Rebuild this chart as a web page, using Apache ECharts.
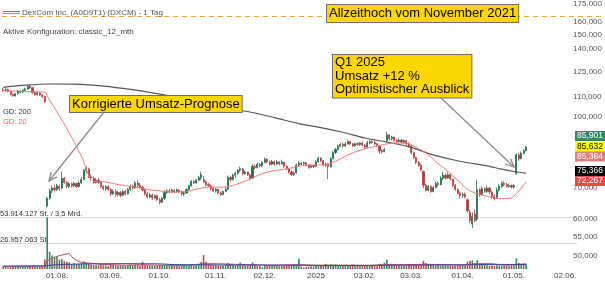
<!DOCTYPE html>
<html><head><meta charset="utf-8">
<script src="https://cdn.jsdelivr.net/npm/echarts@6/dist/echarts.min.js"></script>
<style>html,body{margin:0;padding:0;background:#fff;}#c{width:605px;height:283px;}</style>
</head><body><div id="c"></div>
<script>
// ---------- calendar (NYSE trading days) ----------
const firstDay = '2024-07-01';
const lastDay = '2025-06-24';
const holidays = ['2024-07-04','2024-09-02','2024-11-28','2024-12-25','2025-01-01','2025-01-09','2025-01-20','2025-02-17','2025-04-18','2025-05-26','2025-06-19'];

// ---------- candles [open, close, low, high] ----------
const ohlcJul = [[114.2,113.6,113,115.2],[113.6,114.4,113.1,115],[114.4,113.2,112.6,114.8],[113.2,111.6,111,113.5],[111.6,110.8,110.3,112],[110.8,111.9,110.4,112.4],[111.9,113.4,111.5,113.9],[113.4,112.8,112.2,114],[112.8,113.9,112.4,114.5],[113.9,114.6,113.3,115.4],[114.6,116.2,114.2,116.9],[116.2,115.4,114.6,117.3],[115.4,112.6,112,115.8],[112.6,111.4,110.8,113],[111.4,112.3,110.9,112.9],[112.3,111.2,110.6,112.8],[111.2,110.4,109.6,111.7],[110.4,107.6,107,110.8],[64,66.5,63.5,67],[66.5,69,66,69.8],[69,70,68.2,70.8],[70,69.5,68.8,71]];
const ohlcAug = [[69.5,71,69,71.5],[70.5,69.8,69,71.2],[70,73.5,69.5,76],[73.5,72,71.5,74],[72,70.5,70,72.5],[70.5,71.5,70,72],[71.5,70.8,70.2,72],[70.8,71.6,70.3,72.2],[71.6,70.5,70,72],[70.5,71.8,70.2,72.4],[71.8,73,71.5,74],[73,76.5,72.8,77],[76.5,77.2,75.5,78],[77,74,73.5,77.5],[74,73.5,72.8,75],[73.5,72,71.5,74.2],[72,72.8,71.6,73.5],[72.8,72,71.5,73.6],[72,70.5,70,72.4],[70.5,69.8,69.2,71],[69.8,70.5,69,71],[70.5,69.5,69,71]];
const ohlcSep = [[69.5,68,67.3,70],[68,68.8,67.6,69.5],[68.8,67.8,67.2,69.6],[67.8,68.5,67.2,69],[68.5,67.5,66.8,69],[67.5,68.8,67.2,69.3],[68.8,68,67.4,69.5],[68,69.5,67.8,70],[69.5,70.5,69,71.2],[70.5,70,69.5,71.3],[70,71.8,69.8,72.5],[71.8,71,70.3,72.8],[71,70.3,69.8,71.8],[70.3,69.3,68.8,70.8],[69.3,68,67.5,69.8],[68,67,66.5,68.6],[67,67.6,66.6,68.3],[67.6,66.6,66,68],[66.6,67.4,66.2,67.8],[67.4,66,65.6,67.7]];
const ohlcOct = [[66,65.2,64.6,66.6],[65.2,66.5,65,67],[66.5,68.5,66,69.2],[68.5,69,68,69.6],[69,68.6,68.2,69.6],[68.6,69.2,68.3,69.7],[69.2,68.8,68.2,69.6],[68.8,69.3,68.4,69.8],[69.3,68.7,68.3,69.6],[68.7,68,67.4,69.2],[68,68.3,67.3,68.9],[68.3,69.5,68,69.9],[69.5,70.8,69.2,71.2],[70.8,72.3,70.5,72.8],[72.3,71.8,71.3,72.8],[71.8,72.8,71.5,73.3],[72.8,73.8,72.4,74.3],[73.8,74.8,72.8,75.9],[73,72.2,71.8,74.3],[72.2,71.2,70.8,72.7],[71.2,70.8,70.3,71.8],[70.8,69.8,69.3,71.3],[69.8,69,68.6,70.3]];
const ohlcNov = [[69,69.6,68.4,70],[69.6,68.3,67.8,69.8],[68.3,67.8,67.3,68.8],[67.8,68.8,67.5,69.2],[68.8,69.5,68.5,70.5],[69.5,73.8,69.3,74.5],[73.8,73,72.4,74.5],[73,74.6,72.7,75.2],[74.6,75.3,73.6,76],[75.3,76.5,74.8,77],[76.5,77,75.8,77.8],[77,75.2,74.5,77.2],[75.2,75.8,74.8,76.3],[75.8,74.8,74.3,76],[74.8,73.3,72.8,75],[73.5,78,73.3,78.8],[78,77.5,76.8,78.8],[77.5,78.8,77.2,79.5],[78.8,78.3,77.6,79.3],[78.3,79.5,77.8,80]];
const ohlcDec = [[79.5,80.8,79.3,81.5],[80.8,79.8,79.2,81.2],[79.8,78.8,78.3,80.2],[78.8,79.8,78.4,80.5],[79.8,78.9,78.2,80.2],[78.9,79.7,78.6,80.5],[79.7,79,78.4,80],[79,79.6,78.5,80.6],[79.6,78,77.4,79.8],[78,77,76.5,78.4],[77,75.8,75.2,77.3],[75.8,74.8,74.4,76.5],[74.8,75.3,74.4,76],[75.5,78.5,75.2,79],[78.5,79.3,78,80],[79.3,79,78.4,79.8],[79,79.4,78.6,79.9],[79.4,78.6,78.1,79.6],[78.6,77.6,77.1,78.8],[77.6,78.3,77.2,78.7],[78.3,77.8,77.3,78.6]];
const ohlcJan = [[78,79.8,77.8,80.4],[79.8,81.2,79.4,81.8],[81.2,80.2,79.6,81.6],[80.2,78.6,78.1,80.5],[78.6,78.8,77.7,79.5],[78.8,77.8,73.2,79.3],[77.8,81,77.5,81.5],[81,83.5,80.8,84.1],[83.5,84.8,83,85.4],[84.8,86.2,84.4,86.8],[86.2,87,85.8,87.6],[87,86.3,85.7,87.6],[86.3,87.2,86,88],[87.2,88.2,86.9,88.9],[88.2,87.2,86.6,88.4],[87.2,86.4,85.8,87.6],[86.4,87.3,86,87.8],[87.3,86.9,86.5,87.9],[86.9,87.6,86.3,88],[87.6,86.8,86.3,88.2]];
const ohlcFeb = [[86.5,85.8,85,87.2],[85.8,87.6,85.5,88.6],[87.6,88.2,87,88.9],[88.2,87.8,87.3,88.7],[87.8,87.2,86.8,88.4],[87.2,86.6,86,87.6],[86.2,84.2,83,86.5],[84.2,83.8,83.1,85],[84,84.8,83.6,85.5],[88.5,91.2,87.6,92.6],[91.2,89.5,88.8,91.5],[89.5,90.2,88.8,90.8],[90.2,88.8,88.2,90.4],[88.8,88.3,87.5,89.4],[88.3,88.9,87.8,89.6],[88.9,88,87.4,89.3],[88,88.6,87.3,89.1],[88.6,87.2,86.5,89],[87.2,86.3,85.6,87.9]];
const ohlcMar = [[86.3,83.5,82.8,86.6],[83.5,81.5,80.8,84],[81.5,79.5,78.9,81.8],[79.5,78.4,77.8,80.1],[78.4,76.6,76.2,79],[76,71,70,76.4],[71,69.2,68.8,71.4],[69.2,70.5,68.8,71],[70.5,68.8,68.3,70.9],[68.8,70.2,68.5,70.7],[70.2,71.6,69.9,72.2],[71.6,71.2,70.5,72.4],[71.2,73.5,71,74.2],[73.5,74.6,72.8,75.9],[74.6,73.6,73,75.2],[73.6,74.8,73.2,75.6],[74.8,73.2,72.7,75.2],[73.2,71,70.4,73.4],[71,69.5,69,71.4],[69.5,68.2,67.8,69.9],[68.2,67.5,66.4,68.8]];
const ohlcApr = [[67.5,67.8,66.6,68.5],[67.8,67,66.5,68.4],[66,62.5,62,66.4],[62,59.5,58.8,62.8],[58.5,60.8,57.4,62],[61.5,59.5,59,63],[60,69.5,59.5,73],[69.5,67.8,67,70],[67.8,69.8,67.5,70.6],[69.8,68.8,68.3,70.2],[68.8,70,68.4,70.8],[70,68.6,67.9,70.3],[68.6,67.2,66.3,68.9],[67.2,66.4,65.8,67.8],[66.8,69.3,66.5,70.2],[69.3,70.6,68.8,71.4],[70.6,71.6,70,72.4],[71.6,71.2,70.6,72.5],[71.2,70.6,70.1,71.8],[70.6,70.9,70,71.4],[70.9,70.4,69.9,71.3]];
const ohlcMay = [[70.4,70.8,69.8,71.3],[75.2,82.6,74.8,83.2],[82.6,81,80.2,83.4],[81,83.2,80.8,84],[83.2,84.3,82.9,85],[84.3,85.901,84,86.3]];

// ---------- volume (millions of shares) ----------
const volJul = [2.8,2.2,1.6,2.4,2.6,2.9,3.1,2.7,2.5,3.0,3.4,3.2,3.5,3.0,2.6,2.8,3.1,10.0,53.914127,18.0,14.2,11.5];
const volAug = [12.8,9.6,10.5,8.2,7.5,6.8,5.2,6.0,5.1,5.6,6.3,7.8,6.5,5.5,4.6,4.2,4.0,3.8,4.5,3.9,3.6,3.2];
const volSep = [4.8,4.1,3.7,3.4,4.0,3.6,3.3,3.8,4.4,3.9,4.2,4.6,3.5,7.6,3.8,4.1,3.6,3.3,3.0,3.7];
const volOct = [4.3,3.9,4.5,3.6,3.4,3.8,3.2,3.5,3.0,3.3,3.1,3.6,4.2,4.8,3.7,3.9,5.0,7.2,14.5,7.5,5.2,4.6,4.4];
const volNov = [4.1,3.8,3.5,3.9,4.6,6.2,5.0,4.3,3.9,4.4,6.6,4.8,3.7,3.5,4.0,6.8,4.2,3.6,3.1,1.9];
const volDec = [4.0,3.7,3.4,3.2,3.6,3.3,3.0,3.5,3.1,3.4,3.8,3.6,4.7,3.9,10.8,2.6,1.4,2.2,2.4,2.9,2.7];
const volJan = [3.6,3.2,3.9,3.4,5.4,4.2,4.8,4.5,4.6,4.1,3.8,3.9,3.5,3.7,3.4,4.6,3.8,3.2,3.6,3.5];
const volFeb = [3.7,4.0,3.4,3.2,3.1,3.0,5.4,4.8,6.5,9.6,5.2,4.4,3.8,3.6,3.9,3.5,3.3,3.8,4.2];
const volMar = [4.1,4.5,4.9,4.6,4.3,8.4,6.2,5.0,4.4,4.1,3.7,4.2,3.6,3.9,4.6,3.8,3.5,3.3,3.6,4.0,4.3];
const volApr = [4.2,3.8,7.8,8.6,8.9,6.4,9.2,5.3,4.6,4.2,3.9,3.6,3.8,3.4,3.9,3.7,3.5,3.6,3.9,3.4,4.1];
const volMay = [5.2,11.0,6.3,4.8,4.2,4.6];

// ---------- moving averages ----------
const gd200 = [['2024-07-01',115.6],['2024-07-15',116.8],['2024-07-29',117.5],['2024-08-12',117.4],['2024-08-26',116.6],['2024-09-10',115.0],['2024-09-25',112.7],['2024-10-09',110.2],['2024-10-23',107.3],['2024-11-06',104.7],['2024-11-21',102.2],['2024-12-06',99.4],['2024-12-20',96.5],['2025-01-06',94.6],['2025-01-21',92.4],['2025-02-03',89.8],['2025-02-18',87.8],['2025-02-28',86.0],['2025-03-13',82.9],['2025-03-26',80.6],['2025-04-02',79.6],['2025-04-15',78.2],['2025-04-24',76.9],['2025-05-01',76.0],['2025-05-08',75.366]];
const gd20 = [['2024-07-01',113.8],['2024-07-15',113.2],['2024-07-25',112.8],['2024-07-26',110.6],['2024-08-01',102.3],['2024-08-08',92.2],['2024-08-15',82.0],['2024-08-22',72.3],['2024-08-27',72.3],['2024-09-04',71.6],['2024-09-11',70.8],['2024-09-18',70.2],['2024-09-25',69.4],['2024-10-02',68.9],['2024-10-09',68.6],['2024-10-16',68.8],['2024-10-23',69.8],['2024-10-30',70.4],['2024-11-06',70.3],['2024-11-13',71.2],['2024-11-20',72.8],['2024-11-27',74.8],['2024-12-05',76.2],['2024-12-13',77.0],['2024-12-23',78.2],['2025-01-02',78.5],['2025-01-08',78.6],['2025-01-15',80.0],['2025-01-22',82.0],['2025-01-27',83.4],['2025-01-31',84.8],['2025-02-05',85.6],['2025-02-11',86.5],['2025-02-14',87.2],['2025-02-21',87.6],['2025-02-27',87.5],['2025-03-04',86.2],['2025-03-10',84.0],['2025-03-13',81.8],['2025-03-17',79.8],['2025-03-21',76.8],['2025-03-26',74.3],['2025-03-31',72.0],['2025-04-03',69.5],['2025-04-09',68.0],['2025-04-15',67.2],['2025-04-23',66.4],['2025-04-29',66.5],['2025-05-01',67.2],['2025-05-05',69.0],['2025-05-07',71.0],['2025-05-08',72.267]];
const volAvgShort = [['2024-07-01',2.8],['2024-07-25',3.2],['2024-07-26',8.4],['2024-07-30',11.5],['2024-08-02',14.0],['2024-08-07',15.8],['2024-08-08',16.2],['2024-08-09',12.8],['2024-08-13',9.0],['2024-08-15',7.0],['2024-08-21',6.0],['2024-08-27',4.8],['2024-09-11',4.0],['2024-09-20',4.4],['2024-10-02',3.9],['2024-10-16',3.6],['2024-10-25',5.6],['2024-11-06',5.4],['2024-11-11',5.0],['2024-11-20',4.6],['2024-12-05',4.0],['2024-12-20',4.6],['2025-01-02',4.0],['2025-01-22',4.0],['2025-02-05',3.8],['2025-02-14',4.6],['2025-02-27',4.6],['2025-03-10',4.9],['2025-03-20',4.7],['2025-04-01',4.0],['2025-04-09',5.6],['2025-04-17',5.5],['2025-04-25',4.0],['2025-05-02',4.8],['2025-05-08',5.5]];
const volAvgLong = [['2024-07-01',3.0],['2024-07-26',3.2],['2024-07-29',4.0],['2024-08-06',4.8],['2024-08-20',5.4],['2024-09-11',5.6],['2024-10-01',5.4],['2024-10-09',4.6],['2024-11-06',4.2],['2024-12-05',4.1],['2025-01-06',3.7],['2025-02-05',3.8],['2025-03-06',4.1],['2025-04-03',4.5],['2025-04-17',4.8],['2025-05-08',4.7]];

// ---------- reference levels, axis ticks, tags ----------
const athPrice = 164.86;
const volRefLines = [53.914127, 26.957063];
const volRefTexts = ['53.914.127 St. / 3,5 Mrd.', '26.957.063 St.'];
const priceTicks = [50, 55, 60, 70, 100, 110, 125, 140, 150, 160, 175];
const tagValues = [85.901, 85.632, 85.364, 75.366, 72.267];

// ---------- build ----------
const FONT = '"Liberation Sans", Arial, sans-serif';
const cats = [];
(function () {
  const hol = new Set(holidays);
  let t = Date.parse(firstDay + 'T00:00:00Z');
  const end = Date.parse(lastDay + 'T00:00:00Z');
  while (t <= end) {
    const d = new Date(t);
    const wd = d.getUTCDay();
    const s = d.toISOString().slice(0, 10);
    if (wd !== 0 && wd !== 6 && !hol.has(s)) cats.push(s);
    t += 86400000;
  }
})();
const ohlc = [].concat(ohlcJul, ohlcAug, ohlcSep, ohlcOct, ohlcNov, ohlcDec, ohlcJan, ohlcFeb, ohlcMar, ohlcApr, ohlcMay);
const vol = [].concat(volJul, volAug, volSep, volOct, volNov, volDec, volJan, volFeb, volMar, volApr, volMay);

const UP = '#1d6e4b', DOWN = '#b8383c';
const VUP = '#2f8a5f', VDOWN = '#b54a4e';
const deFmt = v => v.toFixed(3).replace('.', ',');

const priceMin = 46.78, priceMax = 175.21;
const volMax = 277.3;

const chart = echarts.init(document.getElementById('c'));

function arrow(x1, y1, x2, y2) {
  const a = Math.atan2(y2 - y1, x2 - x1), L = 9, w = 0.42;
  return [
    { type: 'line', shape: { x1, y1, x2, y2 }, style: { stroke: '#8c8c8c', lineWidth: 1.3 }, z: 50 },
    { type: 'polyline', shape: { points: [[x2 - L * Math.cos(a - w), y2 - L * Math.sin(a - w)], [x2, y2], [x2 - L * Math.cos(a + w), y2 - L * Math.sin(a + w)]] }, style: { stroke: '#8c8c8c', lineWidth: 1.3, fill: null }, z: 50 }
  ];
}
function box(text, x, y, lh) {
  return { type: 'text', x, y, z: 60, style: { text, font: '13px ' + FONT, fill: '#000', backgroundColor: '#ffd700', borderColor: '#6e6e6e', borderWidth: 1, padding: [1, 2, 1, 2], lineHeight: lh } };
}
const tagStyles = [
  { bg: '#2e8a6c', fg: '#fff', y: 136 },
  { bg: '#ffff00', fg: '#000', y: 147 },
  { bg: '#de8080', fg: '#fff', y: 156.5 },
  { bg: '#000000', fg: '#fff', y: 171 },
  { bg: '#f04848', fg: '#fff', y: 181 }
];
const tags = tagValues.map((v, i) => ({
  type: 'text', x: 575, y: tagStyles[i].y, z: 70,
  style: { text: deFmt(v), font: '8.5px ' + FONT, fill: tagStyles[i].fg, backgroundColor: tagStyles[i].bg, padding: [1, 2, 0, 2], lineHeight: 9, verticalAlign: 'middle' }
}));

const baseGraphics = [
  { type: 'line', shape: { x1: 3, y1: 11.5, x2: 20, y2: 11.5 }, style: { stroke: '#2e9a6e', lineWidth: 1 }, z: 40 },
  { type: 'line', shape: { x1: 3, y1: 13.5, x2: 20, y2: 13.5 }, style: { stroke: '#6f9cc8', lineWidth: 1 }, z: 40 },
  { type: 'text', x: 22, y: 12.5, z: 40, style: { text: 'DexCom Inc. (A0D9T1) (DXCM) - 1 Tag', font: '8px ' + FONT, fill: '#555', verticalAlign: 'middle' } },
  { type: 'text', x: 3, y: 31.5, z: 40, style: { text: 'Aktive Konfiguration: classic_12_mth', font: '8px ' + FONT, fill: '#444', verticalAlign: 'middle' } },
  { type: 'text', x: 3, y: 112, z: 40, style: { text: 'GD: 200', font: '7.5px ' + FONT, fill: '#333', verticalAlign: 'middle' } },
  { type: 'text', x: 3, y: 121.5, z: 40, style: { text: 'GD: 20', font: '7.5px ' + FONT, fill: '#ef5a5a', verticalAlign: 'middle' } },
  ...arrow(104, 112, 49, 181),
  ...arrow(440, 97, 514, 167),
  box('Allzeithoch vom November 2021', 327, 5, 15),
  box('Korrigierte Umsatz-Prognose', 70, 96, 14),
  box('Q1 2025\nUmsatz +12 %\nOptimistischer Ausblick', 333, 55, 13.5),
  ...tags
];

chart.setOption({
  animation: false,
  backgroundColor: '#fff',
  grid: { left: 2, right: 0, top: 0, bottom: 14, containLabel: false },
  xAxis: {
    type: 'category', data: cats, boundaryGap: true,
    axisLine: { show: false }, axisTick: { show: false }, splitLine: { show: false },
    axisLabel: {
      fontSize: 8, fontFamily: FONT, color: '#444', margin: 3, hideOverlap: false,
      interval: (i, v) => i > 0 && cats[i].slice(5, 7) !== cats[i - 1].slice(5, 7),
      formatter: v => v.slice(5, 7) === '01' ? v.slice(0, 4) : v.slice(8, 10) + '.' + v.slice(5, 7) + '.'
    }
  },
  yAxis: [
    { type: 'log', logBase: 10, min: priceMin, max: priceMax, axisLabel: { show: false }, axisLine: { show: false }, axisTick: { show: false }, splitLine: { show: false } },
    { type: 'value', min: 0, max: volMax, show: false, splitLine: { show: false } },
    {
      type: 'value', position: 'right', min: Math.log10(priceMin), max: Math.log10(priceMax),
      axisLine: { show: false }, axisTick: { show: false }, splitLine: { show: false },
      axisLabel: { customValues: priceTicks.map(v => Math.log10(v)), formatter: v => deFmt(Math.pow(10, v)), fontSize: 8, fontFamily: FONT, color: '#555', margin: -30, align: 'left' }
    }
  ],
  series: [
    {
      type: 'bar', xAxisIndex: 0, yAxisIndex: 1, barWidth: 1.6, z: 1,
      data: vol.map((v, i) => ({ value: v, itemStyle: { color: ohlc[i][1] >= ohlc[i][0] ? VUP : VDOWN } }))
    },
    { type: 'line', yAxisIndex: 1, data: volAvgShort, showSymbol: false, lineStyle: { color: '#c0485a', width: 1 }, z: 2 },
    { type: 'line', yAxisIndex: 1, data: volAvgLong, showSymbol: false, lineStyle: { color: '#3a44a8', width: 1 }, z: 2 },
    {
      type: 'candlestick', yAxisIndex: 0, data: ohlc, barWidth: 1.6, z: 3,
      itemStyle: { color: UP, color0: DOWN, borderColor: UP, borderColor0: DOWN, borderWidth: 0.8 },
      markLine: {
        silent: true, symbol: 'none', label: { show: false },
        lineStyle: { color: '#f5a623', type: [5, 4], width: 1.2 },
        data: [{ yAxis: athPrice }]
      }
    },
    { type: 'line', yAxisIndex: 0, data: gd200, showSymbol: false, smooth: 0.3, lineStyle: { color: '#555', width: 1.2 }, z: 4 },
    { type: 'line', yAxisIndex: 0, data: gd20, showSymbol: false, smooth: 0.3, lineStyle: { color: '#f07878', width: 1 }, z: 4 }
  ],
  graphic: baseGraphics
});

// volume reference lines, positioned through the volume axis scale
const refGraphics = [];
volRefLines.forEach((v, i) => {
  const y = Math.round(chart.convertToPixel({ yAxisIndex: 1 }, v)) + 0.5;
  refGraphics.push({ type: 'line', shape: { x1: 0, y1: y, x2: 577, y2: y }, style: { stroke: '#d9d9d9', lineWidth: 1 }, z: 0 });
  refGraphics.push({ type: 'text', x: 0, y: y - 3.5, z: 40, style: { text: volRefTexts[i], font: '7.5px ' + FONT, fill: '#333', verticalAlign: 'middle' } });
});
chart.setOption({ graphic: refGraphics.concat(baseGraphics) }, { replaceMerge: ['graphic'] });
</script>
</body></html>
